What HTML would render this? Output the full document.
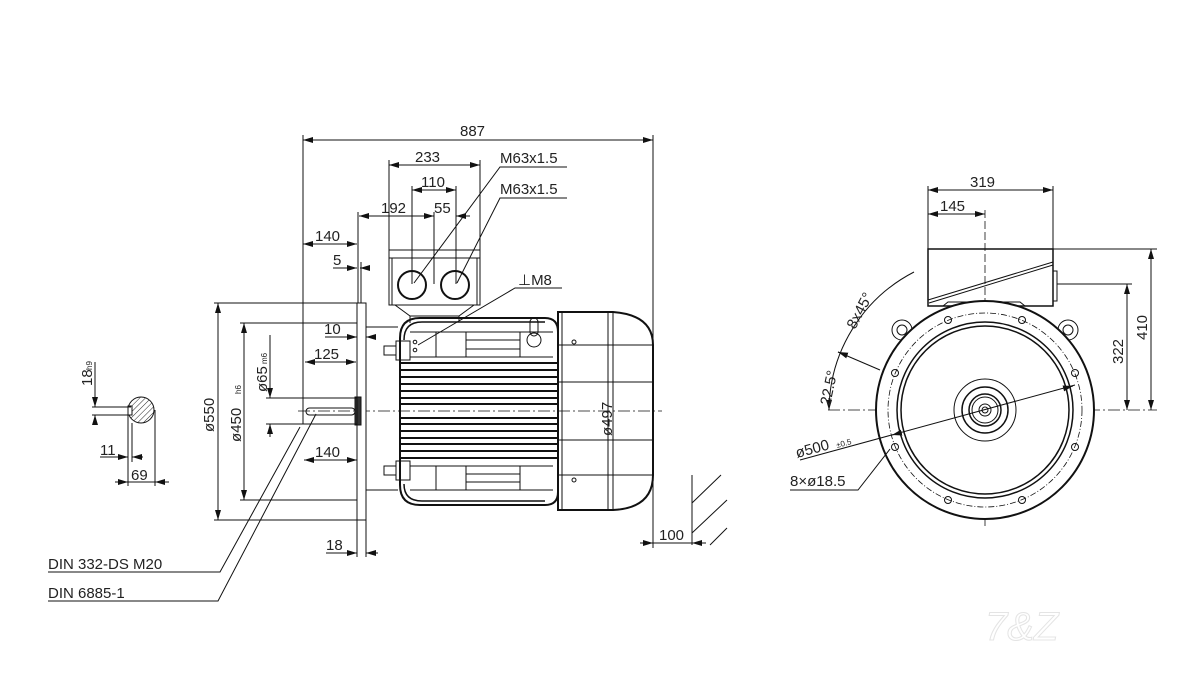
<!DOCTYPE html>
<html><head><meta charset="utf-8"><style>
html,body{margin:0;padding:0;background:#fff}
svg{display:block}
text{font-family:"Liberation Sans",sans-serif;fill:#222}
</style></head><body>
<svg width="1200" height="687" viewBox="0 0 1200 687" xmlns="http://www.w3.org/2000/svg">
<defs>
<marker id="a" viewBox="0 0 10 6" refX="10" refY="3" markerWidth="10" markerHeight="6" orient="auto-start-reverse" markerUnits="userSpaceOnUse"><path d="M0,0 L10,3 L0,6z" fill="#111"/></marker>
<pattern id="h" width="4" height="4" patternUnits="userSpaceOnUse" patternTransform="rotate(45)"><line x1="0" y1="0" x2="0" y2="4" stroke="#222" stroke-width="1"/></pattern>
</defs>
<g stroke="#111" stroke-width="1" fill="none">
<!-- SIDE VIEW dimension lines -->
<line x1="303" y1="135" x2="303" y2="405"/>
<line x1="653" y1="135" x2="653" y2="548"/>
<line x1="303" y1="140" x2="653" y2="140" marker-start="url(#a)" marker-end="url(#a)"/>
<line x1="389" y1="160" x2="389" y2="250"/>
<line x1="480" y1="160" x2="480" y2="250"/>
<line x1="389" y1="165" x2="480" y2="165" marker-start="url(#a)" marker-end="url(#a)"/>
<line x1="412" y1="186" x2="412" y2="284"/>
<line x1="456" y1="186" x2="456" y2="284"/>
<line x1="412" y1="190" x2="456" y2="190" marker-start="url(#a)" marker-end="url(#a)"/>
<line x1="434" y1="212" x2="434" y2="284"/>
<line x1="359" y1="216" x2="434" y2="216" marker-start="url(#a)" marker-end="url(#a)"/>
<line x1="456" y1="216" x2="470" y2="216"/>
<line x1="459" y1="216" x2="456" y2="216" marker-end="url(#a)"/>
<line x1="358" y1="212" x2="358" y2="303"/>
<line x1="303" y1="244" x2="357" y2="244" marker-start="url(#a)" marker-end="url(#a)"/>
<line x1="333" y1="268" x2="357" y2="268" marker-end="url(#a)"/>
<line x1="370" y1="268" x2="360" y2="268" marker-end="url(#a)"/>
<line x1="361" y1="262" x2="361" y2="303"/>
<line x1="325" y1="337" x2="357" y2="337" marker-end="url(#a)"/>
<line x1="372" y1="337" x2="366" y2="337" marker-end="url(#a)"/>
<line x1="305" y1="362" x2="356" y2="362" marker-start="url(#a)" marker-end="url(#a)"/>
<line x1="304" y1="460" x2="357" y2="460" marker-start="url(#a)" marker-end="url(#a)"/>
<line x1="326" y1="553" x2="357" y2="553" marker-end="url(#a)"/>
<line x1="378" y1="553" x2="366" y2="553" marker-end="url(#a)"/>
<line x1="357" y1="520" x2="357" y2="557"/>
<line x1="366" y1="520" x2="366" y2="557"/>
<!-- left diameters -->
<line x1="214" y1="303" x2="357" y2="303"/>
<line x1="214" y1="520" x2="357" y2="520"/>
<line x1="218" y1="303" x2="218" y2="520" marker-start="url(#a)" marker-end="url(#a)"/>
<line x1="240" y1="323" x2="357" y2="323"/>
<line x1="240" y1="500" x2="357" y2="500"/>
<line x1="244" y1="323" x2="244" y2="500" marker-start="url(#a)" marker-end="url(#a)"/>
<line x1="266" y1="398" x2="303" y2="398"/>
<line x1="266" y1="424" x2="303" y2="424"/>
<line x1="270" y1="335" x2="270" y2="398" marker-end="url(#a)"/>
<line x1="270" y1="437" x2="270" y2="424" marker-end="url(#a)"/>
<!-- 100 -->
<line x1="640" y1="543" x2="653" y2="543" marker-end="url(#a)"/>
<line x1="706" y1="543" x2="692" y2="543" marker-end="url(#a)"/>
<line x1="653" y1="543" x2="692" y2="543"/>
<line x1="692" y1="475" x2="692" y2="545"/>
<line x1="692" y1="503" x2="721" y2="475"/>
<line x1="692" y1="533" x2="727" y2="500"/>
<line x1="710" y1="545" x2="727" y2="528"/>
<!-- center line -->
<line x1="298" y1="411" x2="662" y2="411" stroke-dasharray="12 3 2 3" stroke-width="0.8"/>
<!-- flange -->
<rect x="357" y="303" width="9" height="217" fill="#fff"/>
<rect x="355" y="397" width="6" height="28" fill="#333"/>
<!-- shaft -->
<rect x="303" y="398" width="54" height="26"/>
<rect x="306" y="408" width="49" height="7" rx="3.5"/>
<!-- hub -->
<path d="M366,327 H398 M366,490 H398"/>
<!-- terminal box -->
<rect x="389" y="250" width="91" height="55"/>
<path d="M389,258 H480 M392,258 V305 M477,258 V305"/>
<circle cx="412" cy="285" r="14" stroke-width="2"/>
<circle cx="455" cy="285" r="14" stroke-width="2"/>
<path d="M395,305 L410,316 V323 M474,305 L459,316 V321 M410,316 H459"/>
<!-- body -->
<path d="M400,338 Q400,318 420,318 H545 Q558,318 558,332 V492 Q558,505 545,505 H420 Q400,505 400,485 Z" stroke-width="2"/>
<path d="M404,340 Q404,322 422,322 H545 M404,484 Q404,501 422,501 H545" stroke-width="1.5"/>
<path d="M410,332 H553 M410,357 H553 M410,466 H553 M410,490 H553"/>
<path d="M436,332 V357 M466,332 V357 M520,332 V357 M436,466 V490 M466,466 V490 M520,466 V490 M466,340 H520 M466,349 H520 M466,474 H520 M466,482 H520"/>
<g stroke-width="2">
<line x1="400" y1="363" x2="558" y2="363"/><line x1="400" y1="370" x2="558" y2="370"/>
<line x1="400" y1="377" x2="558" y2="377"/><line x1="400" y1="384" x2="558" y2="384"/>
<line x1="400" y1="391" x2="558" y2="391"/><line x1="400" y1="398" x2="558" y2="398"/>
<line x1="400" y1="404" x2="558" y2="404"/><line x1="400" y1="418" x2="558" y2="418"/>
<line x1="400" y1="424" x2="558" y2="424"/><line x1="400" y1="431" x2="558" y2="431"/>
<line x1="400" y1="438" x2="558" y2="438"/><line x1="400" y1="444" x2="558" y2="444"/>
<line x1="400" y1="451" x2="558" y2="451"/><line x1="400" y1="458" x2="558" y2="458"/>
</g>
<!-- bolts -->
<rect x="396" y="341" width="14" height="19"/><rect x="384" y="346" width="12" height="9"/>
<rect x="396" y="461" width="14" height="19"/><rect x="384" y="466" width="12" height="9"/>
<rect x="530" y="318" width="8" height="18" rx="4"/><circle cx="534" cy="340" r="7"/>
<circle cx="415" cy="342" r="1.8"/><circle cx="415" cy="350" r="1.8"/>
<!-- fan cover -->
<path d="M558,312 H613 Q653,315 653,345 V475 Q653,508 613,510 H558 Z" stroke-width="2"/>
<path d="M562,312 V510 M613,312 V510 M558,345 H653 M558,382 H653 M558,440 H653 M558,475 H653"/>
<circle cx="574" cy="342" r="2"/><circle cx="574" cy="480" r="2"/>
<line x1="608" y1="313" x2="608" y2="510"/>
<!-- leaders -->
<path d="M567,167 H500 L414,283"/>
<path d="M567,198 H500 L457,283"/>
<path d="M562,288 H515 L418,345"/>
<path d="M48,572 H220 L300,427"/>
<path d="M48,601 H218 L316,414"/>
<!-- key section -->
<circle cx="141" cy="410" r="13" fill="url(#h)"/>
<rect x="128" y="406" width="4" height="9" fill="#fff"/>
<line x1="92" y1="407" x2="131" y2="407"/>
<line x1="92" y1="415" x2="131" y2="415"/>
<line x1="95" y1="362" x2="95" y2="407" marker-end="url(#a)"/>
<line x1="95" y1="425" x2="95" y2="415" marker-end="url(#a)"/>
<path d="M128,415 V486 M132,423 V462 M155,410 V486"/>
<line x1="100" y1="457" x2="128" y2="457" marker-end="url(#a)"/>
<line x1="143" y1="457" x2="132" y2="457" marker-end="url(#a)"/>
<line x1="115" y1="482" x2="128" y2="482" marker-end="url(#a)"/>
<line x1="169" y1="482" x2="155" y2="482" marker-end="url(#a)"/>
<line x1="128" y1="482" x2="155" y2="482"/>
<path d="M100,457 H118"/>
<!-- FRONT VIEW -->
<line x1="928" y1="186" x2="928" y2="250"/>
<line x1="1053" y1="186" x2="1053" y2="250"/>
<line x1="928" y1="190" x2="1053" y2="190" marker-start="url(#a)" marker-end="url(#a)"/>
<line x1="928" y1="214" x2="985" y2="214" marker-start="url(#a)" marker-end="url(#a)"/>
<line x1="985" y1="210" x2="985" y2="528" stroke-dasharray="8 3" stroke-width="0.8"/>
<line x1="828" y1="410" x2="1157" y2="410" stroke-dasharray="12 3 2 3" stroke-width="0.8"/>
<line x1="1053" y1="249" x2="1157" y2="249"/>
<line x1="1057" y1="284" x2="1132" y2="284"/>
<line x1="1151" y1="249" x2="1151" y2="410" marker-start="url(#a)" marker-end="url(#a)"/>
<line x1="1127" y1="284" x2="1127" y2="410" marker-start="url(#a)" marker-end="url(#a)"/>
<rect x="928" y="249" width="125" height="57" stroke-width="1.5"/>
<path d="M928,300 L1053,262 M929,303 L1053,265" />
<rect x="1053" y="271" width="4" height="30"/>
<path d="M943,306 L948,302 H1020 L1025,306"/>
<!-- lugs -->
<circle cx="902" cy="330" r="10"/><circle cx="902" cy="330" r="5"/>
<circle cx="1068" cy="330" r="10"/><circle cx="1068" cy="330" r="5"/>
<circle cx="985" cy="410" r="109" fill="#fff" stroke-width="2"/>
<circle cx="985" cy="410" r="97" stroke-dasharray="6 2 1 2" stroke-width="0.8"/>
<circle cx="985" cy="410" r="88" stroke-width="1.5"/>
<circle cx="985" cy="410" r="84" stroke-width="1.5"/>
<circle cx="985" cy="410" r="31"/>
<circle cx="985" cy="410" r="23" stroke-width="1.5"/>
<circle cx="985" cy="410" r="16" stroke-width="1.5"/>
<circle cx="985" cy="410" r="13"/>
<circle cx="985" cy="410" r="6"/>
<circle cx="985" cy="410" r="3"/>
<g>
<circle cx="948" cy="320" r="3.5"/><circle cx="1022" cy="320" r="3.5"/>
<circle cx="895" cy="373" r="3.5"/><circle cx="1075" cy="373" r="3.5"/>
<circle cx="895" cy="447" r="3.5"/><circle cx="1075" cy="447" r="3.5"/>
<circle cx="948" cy="500" r="3.5"/><circle cx="1022" cy="500" r="3.5"/>
</g>
<path d="M829,410 A157,157 0 0 1 914,272"/>
<line x1="838" y1="352" x2="880" y2="370"/>
<line x1="846" y1="355" x2="838" y2="352" marker-end="url(#a)"/>
<line x1="829" y1="398" x2="829" y2="410" marker-end="url(#a)"/>
<line x1="800" y1="460" x2="1075" y2="385"/>
<line x1="1065" y1="388" x2="1073" y2="386" marker-end="url(#a)"/>
<line x1="900" y1="433" x2="892" y2="435" marker-end="url(#a)"/>
<path d="M790,490 H858 L890,449"/>
</g>
<!-- text -->
<g font-size="15">
<text x="460" y="136">887</text>
<text x="415" y="162">233</text>
<text x="421" y="187">110</text>
<text x="381" y="213">192</text>
<text x="434" y="213">55</text>
<text x="315" y="241">140</text>
<text x="333" y="265">5</text>
<text x="324" y="334">10</text>
<text x="314" y="359">125</text>
<text x="315" y="457">140</text>
<text x="326" y="550">18</text>
<text x="659" y="540">100</text>
<text x="500" y="163">M63x1.5</text>
<text x="500" y="194">M63x1.5</text>
<text x="518" y="285">⊥M8</text>
<text x="48" y="569" font-family="Liberation Mono, monospace">DIN 332-DS M20</text>
<text x="48" y="598" font-family="Liberation Mono, monospace">DIN 6885-1</text>
<text x="100" y="455">11</text>
<text x="131" y="480">69</text>
<text x="970" y="187">319</text>
<text x="940" y="211">145</text>
<text transform="translate(214,432) rotate(-90)">ø550</text>
<text transform="translate(241,442) rotate(-90)">ø450</text>
<text transform="translate(241,394) rotate(-90)" font-size="8">h6</text>
<text transform="translate(267,392) rotate(-90)">ø65</text>
<text transform="translate(267,364) rotate(-90)" font-size="8">m6</text>
<text transform="translate(92,386) rotate(-90)">18</text>
<text transform="translate(92,370) rotate(-90)" font-size="8">h9</text>
<text transform="translate(612,436) rotate(-90)">ø497</text>
<text transform="translate(1147,340) rotate(-90)">410</text>
<text transform="translate(1123,364) rotate(-90)">322</text>
<text transform="translate(855,330) rotate(-62)">8x45°</text>
<text transform="translate(830,406) rotate(-78)">22.5°</text>
<text transform="translate(797,458) rotate(-15)">ø500</text>
<text transform="translate(837,448) rotate(-15)" font-size="8">±0.5</text>
<text x="790" y="486">8×ø18.5</text>
</g>
<text x="985" y="640" font-size="40" font-style="italic" fill="none" stroke="#e4e4e4" stroke-width="1" style="fill:none">7&amp;Z</text>
</svg>
</body></html>
